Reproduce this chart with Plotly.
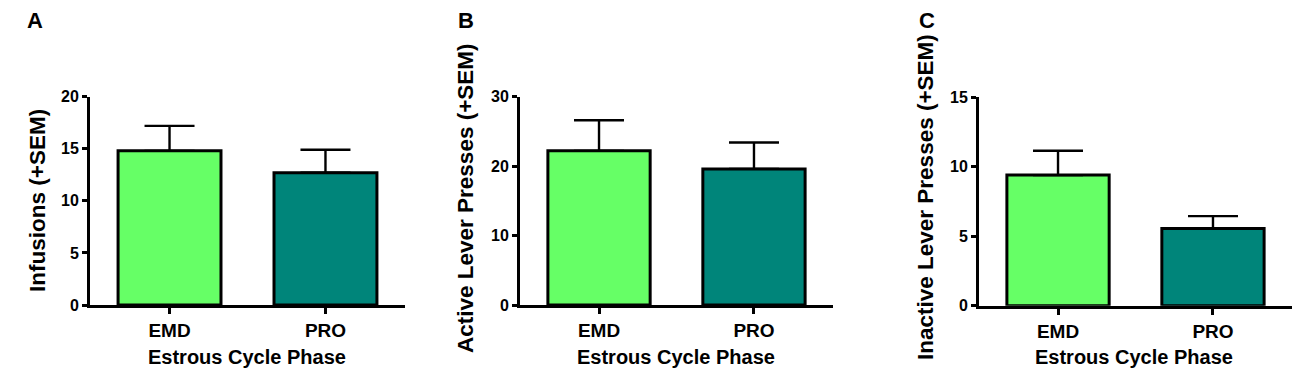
import plotly.graph_objects as go

categories = ["EMD", "PRO"]
infusions = [14.8, 12.7]
infusions_sem = [2.4, 2.2]
active = [22.2, 19.6]
active_sem = [4.4, 3.8]
inactive = [9.4, 5.55]
inactive_sem = [1.75, 0.9]
bar_colors = ["#66FF66", "#00857A"]

panels = [
    dict(vals=infusions, sem=infusions_sem, ymax=20, dtick=5, title="Infusions (+SEM)", label="A",
         xdom=[90, 405], ytop=96.7, ybot=305, ytitle_x=37, ytitle_y=201, xtitle_x=247, label_x=35),
    dict(vals=active, sem=active_sem, ymax=30, dtick=10, title="Active Lever Presses (+SEM)", label="B",
         xdom=[520, 833], ytop=96.7, ybot=305, ytitle_x=465, ytitle_y=198, xtitle_x=676, label_x=466),
    dict(vals=inactive, sem=inactive_sem, ymax=15, dtick=5, title="Inactive Lever Presses (+SEM)", label="C",
         xdom=[979, 1292], ytop=97.3, ybot=305.7, ytitle_x=925, ytitle_y=197, xtitle_x=1134, label_x=927),
]

# page body has an 8px margin; figure is sized to fit the rest of the window
OFF = 8
W, H = 1300 - OFF, 373 - OFF


def px(x):
    return (x - OFF) / W


def py(y):
    return 1 - (y - OFF) / H


FONT = "Liberation Sans, Arial, sans-serif"
fig = go.Figure()
annotations = []
layout = {}
for i, p in enumerate(panels, start=1):
    xa = "x" if i == 1 else f"x{i}"
    ya = "y" if i == 1 else f"y{i}"
    fig.add_trace(go.Bar(
        x=categories, y=p["vals"], xaxis=xa, yaxis=ya,
        marker=dict(color=bar_colors, line=dict(color="black", width=3)),
        width=0.66,
        error_y=dict(type="data", array=p["sem"], arrayminus=[0, 0], symmetric=False,
                     color="black", thickness=2.4, width=25),
        showlegend=False,
    ))
    xkey = "xaxis" if i == 1 else f"xaxis{i}"
    ykey = "yaxis" if i == 1 else f"yaxis{i}"
    layout[xkey] = dict(
        domain=[px(p["xdom"][0]), px(p["xdom"][1])], anchor=ya,
        range=[-0.51, 1.51], showline=True, linewidth=3, linecolor="black",
        ticks="outside", ticklen=6, tickwidth=2.5, tickcolor="black",
        showgrid=False, zeroline=False, automargin=False,
        tickfont=dict(family=FONT, size=19, color="black", weight="bold"),
    )
    layout[ykey] = dict(
        domain=[py(p["ybot"]), py(p["ytop"])], anchor=xa,
        range=[0, p["ymax"]], dtick=p["dtick"], showline=True, linewidth=3, linecolor="black",
        ticks="outside", ticklen=5, tickwidth=2.5, tickcolor="black",
        showgrid=False, zeroline=False, automargin=False,
        tickfont=dict(family=FONT, size=16, color="black", weight="bold"),
    )
    annotations.append(dict(
        text=p["title"], textangle=-90, xref="paper", yref="paper",
        x=px(p["ytitle_x"]), y=py(p["ytitle_y"]), xanchor="center", yanchor="middle",
        showarrow=False, font=dict(family=FONT, size=22.5, color="black", weight="bold"),
    ))
    annotations.append(dict(
        text="Estrous Cycle Phase", xref="paper", yref="paper",
        x=px(p["xtitle_x"]), y=py(357), xanchor="center", yanchor="middle",
        showarrow=False, font=dict(family=FONT, size=20, color="black", weight="bold"),
    ))
    annotations.append(dict(
        text=p["label"], xref="paper", yref="paper",
        x=px(p["label_x"]), y=py(21), xanchor="center", yanchor="middle",
        showarrow=False, font=dict(family=FONT, size=22, color="black", weight="bold"),
    ))

fig.update_layout(
    width=W, height=H, margin=dict(l=0, r=0, t=0, b=0, pad=0),
    paper_bgcolor="white", plot_bgcolor="white",
    annotations=annotations, bargap=0.3, **layout,
)
fig.write_html("out.html")
